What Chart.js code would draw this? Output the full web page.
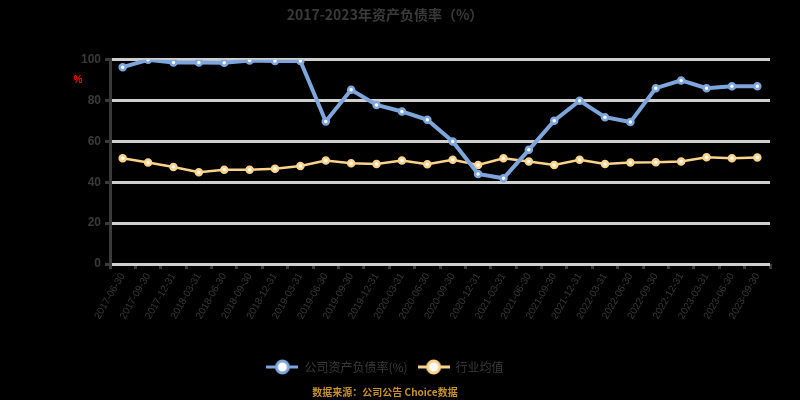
<!DOCTYPE html>
<html><head><meta charset="utf-8">
<script src="https://cdn.jsdelivr.net/npm/chart.js@4.4.1/dist/chart.umd.min.js"></script>
<style>html,body{margin:0;padding:0;background:#000;}#wrap{width:800px;height:400px;position:relative;}</style>
</head><body><div id="wrap"><canvas id="c" width="800" height="400"></canvas></div>
<script>
const categories = ["2017-06-30","2017-09-30","2017-12-31","2018-03-31","2018-06-30","2018-09-30","2018-12-31","2019-03-31","2019-06-30","2019-09-30","2019-12-31","2020-03-31","2020-06-30","2020-09-30","2020-12-31","2021-03-31","2021-06-30","2021-09-30","2021-12-31","2022-03-31","2022-06-30","2022-09-30","2022-12-31","2023-03-31","2023-06-30","2023-09-30"];
const companySeries = [96.4,100,98.7,98.7,98.5,99.7,99.4,99.4,69.8,85.3,77.9,74.7,70.6,60.0,44.1,42.0,55.9,70.2,80.0,71.9,69.5,86.1,89.9,86.1,87.1,87.1];
const industrySeries = [51.8,49.7,47.5,44.9,46.1,46.2,46.6,48.0,50.7,49.3,49.0,50.7,48.9,51.0,48.5,51.8,50.2,48.5,51.0,49.0,49.7,49.8,50.2,52.3,51.8,52.1];
const seriesNames = ["公司资产负债率(%)","行业均值"];
const yTicks = [0,20,40,60,80,100];
const titleText = "2017-2023年资产负债率（%）";
const sourceText = "数据来源：公司公告 Choice数据";
const unitText = "%";

const blue = "#7ea6dc", orange = "#fcd38b";
function makeIcon(color){
  const c = document.createElement('canvas'); c.width = 32; c.height = 16;
  const x = c.getContext('2d');
  x.strokeStyle = color; x.lineWidth = 3;
  x.beginPath(); x.moveTo(0,8); x.lineTo(32,8); x.stroke();
  x.beginPath(); x.arc(16,8,6,0,Math.PI*2); x.fillStyle = '#fff'; x.fill();
  x.lineWidth = 3; x.stroke();
  return c;
}
const icons = [makeIcon(blue), makeIcon(orange)];

const unitPlugin = {
  id: 'unit',
  afterDraw(chart){
    const ctx = chart.ctx; ctx.save();
    ctx.fillStyle = '#ff0000'; ctx.font = 'bold 10px "Liberation Sans", Arial, sans-serif';
    ctx.textAlign = 'center'; ctx.textBaseline = 'middle';
    ctx.fillText(unitText, 78, 80); ctx.restore();
  }
};

new Chart(document.getElementById('c'), {
  type: 'line',
  data: {
    labels: categories,
    datasets: [
      {label: seriesNames[0], data: companySeries, borderColor: blue, backgroundColor: '#fff', borderWidth: 4,
       pointRadius: 3, pointBorderWidth: 2.5, pointBorderColor: blue, pointBackgroundColor: '#fff', tension: 0},
      {label: seriesNames[1], data: industrySeries, borderColor: orange, backgroundColor: '#fff', borderWidth: 2.5,
       pointRadius: 3, pointBorderWidth: 2.5, pointBorderColor: orange, pointBackgroundColor: '#fff', tension: 0}
    ]
  },
  options: {
    responsive: false, animation: false,
    layout: {padding: {left: 0, right: 30, top: 0, bottom: 0}},
    plugins: {
      title: {display: true, text: titleText, color: '#3a3a3a', font: {family: '"Noto Sans CJK SC", sans-serif', size: 14, weight: 'bold'}, padding: {top: 6, bottom: 37}},
      subtitle: {display: true, position: 'bottom', text: sourceText, color: '#c8922a', font: {family: '"Noto Sans CJK SC", sans-serif', size: 10, weight: 'bold'}, padding: {top: 3, bottom: 2}},
      legend: {position: 'bottom', labels: {usePointStyle: true, pointStyleWidth: 32, color: '#3a3a3a', font: {family: '"Noto Sans CJK SC", sans-serif', size: 12}, padding: 10,
        generateLabels(chart){
          return chart.data.datasets.map((d,i)=>({text: d.label, pointStyle: icons[i], fillStyle: '#fff', strokeStyle: d.borderColor, lineWidth: 0, hidden: false, datasetIndex: i, fontColor: '#3a3a3a'}));
        }}},
      tooltip: {enabled: false}
    },
    scales: {
      x: {
        offset: true,
        grid: {display: true, drawOnChartArea: false, drawTicks: true, tickLength: 5, tickColor: '#3a3a3a', lineWidth: 3, offset: true},
        border: {display: false},
        ticks: {autoSkip: false, maxRotation: 60, minRotation: 60, color: '#3a3a3a', font: {family: '"Liberation Sans", Arial, sans-serif', size: 10}, padding: 2},
        afterFit(s){ s.height = 87; }
      },
      y: {
        min: 0, max: 100,
        afterBuildTicks(s){ s.ticks = yTicks.map(v=>({value: v})); },
        grid: {color: '#cfcfcf', lineWidth: 3, drawTicks: true, tickLength: 5, tickColor: '#3a3a3a'},
        border: {display: true, color: '#3a3a3a', width: 3},
        ticks: {color: '#3a3a3a', font: {family: '"Liberation Sans", Arial, sans-serif', size: 12, weight: 'bold'}, padding: 4},
        afterFit(s){ s.width = 110; }
      }
    }
  },
  plugins: [unitPlugin]
});
</script></body></html>
